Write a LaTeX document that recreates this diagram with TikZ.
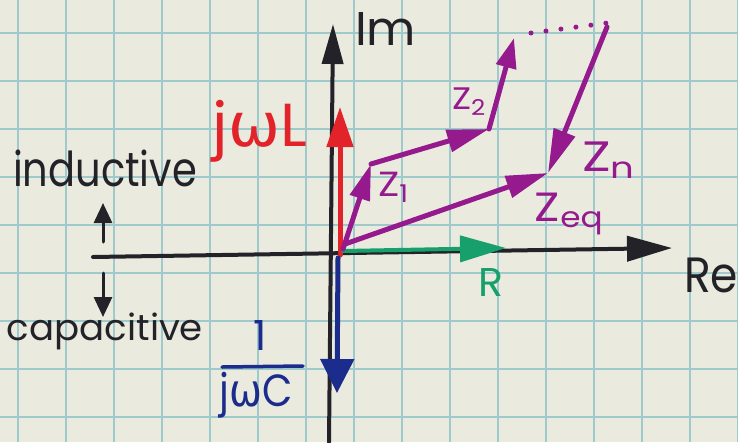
\documentclass[tikz,border=0pt]{standalone}
\usepackage{fontspec}
\setmainfont{Poppins}
\newfontfamily\gr{DejaVu Sans}
\usetikzlibrary{arrows.meta}
\definecolor{paper}{RGB}{234,235,222}
\definecolor{gridc}{RGB}{158,202,204}
\definecolor{ink}{RGB}{34,34,40}
\definecolor{redink}{RGB}{226,35,42}
\definecolor{blueink}{RGB}{27,44,140}
\definecolor{greenink}{RGB}{24,160,108}
\definecolor{purpink}{RGB}{149,26,141}
\newcommand\fitto[3]{\resizebox*{#1}{#2}{#3}}
\tikzset{
  gridline/.style={draw=gridc, line width=1.8pt},
  pen/.style={line width=4pt, line cap=round, line join=round},
  fatpen/.style={line width=5pt, line cap=round, line join=round},
  lbl/.style={inner sep=0pt, outer sep=0pt},
  tip/.style 2 args={-{Triangle[length=#1pt,width=#2pt]}},
}
\begin{document}
\begin{tikzpicture}[x=1pt,y=-1pt]
\useasboundingbox (0,0) rectangle (738,442);
\fill[paper] (0,0) rectangle (738,442);
% graph paper
\foreach \i in {0,...,15} \draw[gridline] ({18+48*\i},0) -- ({18+48*\i},442);
\foreach \j in {0,...,8} \draw[gridline] (0,{33+48*\j}) -- (738,{33+48*\j});

% coordinates
\coordinate (imB) at (329,442);
\coordinate (imT) at (333,24);
\coordinate (reL) at (93,257);
\coordinate (reR) at (672,248);
\coordinate (rs) at (340,255);
\coordinate (rt) at (340,107);
\coordinate (bs) at (338,258);
\coordinate (bt) at (337,393);
\coordinate (gs) at (343,251);
\coordinate (gt) at (506,248);
\coordinate (O1) at (343,249);
\coordinate (A) at (371,164);
\coordinate (B) at (489,129);
\coordinate (C) at (514,38);
\coordinate (d1) at (531,33);
\coordinate (d2) at (607,23);
\coordinate (D) at (607,27);
\coordinate (E) at (548,173);
\coordinate (O2) at (345,244);
\coordinate (upA) at (103,242);
\coordinate (upB) at (103,203);
\coordinate (dnA) at (103,273);
\coordinate (dnB) at (103,317);

% axes
\draw[pen, ink, tip={40}{21}] (imB) -- (imT);
\draw[pen, ink, tip={45}{25}] (reL) -- (reR);
\draw[line width=3pt, line cap=round, ink, tip={20}{18}] (upA) -- (upB);
\draw[line width=3pt, line cap=round, ink, tip={20}{18}] (dnA) -- (dnB);

% component phasors
\draw[fatpen, redink, tip={40}{26}] (rs) -- (rt);
\draw[fatpen, blueink, tip={34}{33}] (bs) -- (bt);
\draw[pen, greenink, tip={46}{26}] (gs) -- (gt);

% impedance chain
\draw[fatpen, purpink, tip={36}{20}] (O1) -- (A);
\draw[fatpen, purpink, tip={42}{22}] (A) -- (B);
\draw[fatpen, purpink, tip={30}{20}] (B) -- (C);
\draw[line width=5pt, purpink, line cap=round, dash pattern=on 0pt off 15.1pt] (d1) -- (d2);
\draw[fatpen, purpink, tip={44}{22}] (D) -- (E);
\draw[fatpen, purpink, tip={42}{22}] (O2) -- (E);

% fraction bar
\draw[line width=3.5pt, blueink, line cap=round] (222,367) -- (303,366);

% labels
\node[lbl, text=ink] (ind) at (105,168.5) {\fitto{184pt}{37pt}{inductive}};
\node[lbl, text=ink] (cap) at (105,331.5) {\fitto{196pt}{37pt}{capacitive}};
\node[lbl, text=ink] (im) at (385.5,28.5) {\fitto{61pt}{33pt}{Im}};
\node[lbl, text=ink] (re) at (711,275.5) {\fitto{54pt}{35pt}{Re}};
\node[lbl, text=redink] (jwl) at (260,131) {\fitto{94pt}{62pt}{j{\gr ω}L}};
\node[lbl, text=blueink] (one) at (260,335) {\fitto{!}{30pt}{1}};
\node[lbl, text=blueink] (jwc) at (256.5,395) {\fitto{73pt}{46pt}{j{\gr ω}C}};
\node[lbl, text=greenink] (R) at (491,282) {\fitto{25pt}{28pt}{R}};
\node[lbl, text=purpink] (z1) at (394,187) {\fitto{32pt}{30pt}{Z\textsubscript{1}}};
\node[lbl, text=purpink] (z2) at (469.5,101.5) {\fitto{35pt}{27pt}{Z\textsubscript{2}}};
\node[lbl, text=purpink] (zn) at (609.5,160) {\fitto{55pt}{36pt}{Z\textsubscript{n}}};
\node[lbl, text=purpink] (zeq) at (570,214) {\fitto{70pt}{42pt}{Z\textsubscript{eq}}};
\end{tikzpicture}
\end{document}
